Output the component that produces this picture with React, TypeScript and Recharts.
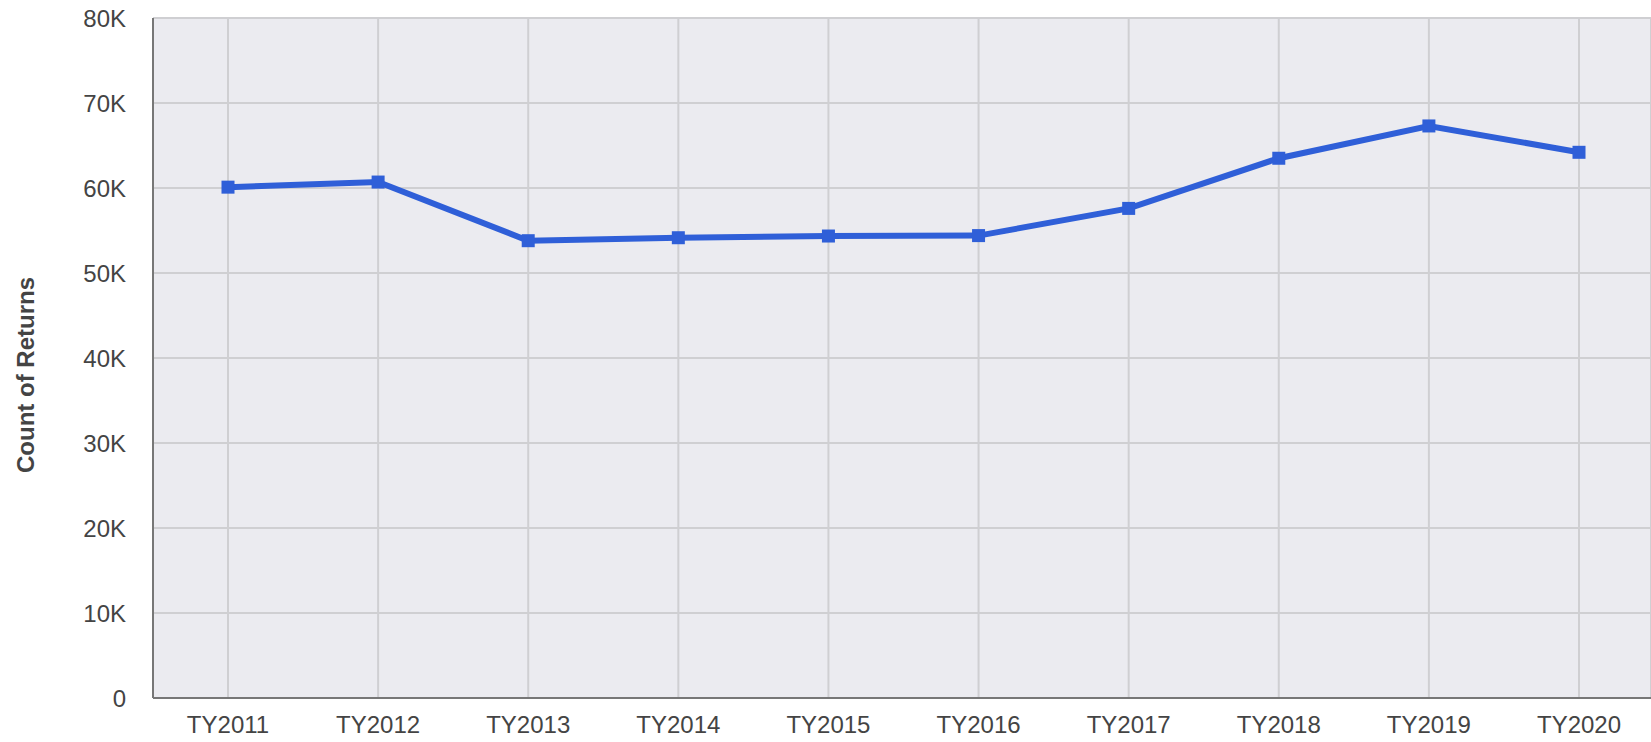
import React from "react";
import {
  LineChart,
  CartesianGrid,
  XAxis,
  YAxis,
  Line,
} from "recharts";

const taxYears = [
  "TY2011",
  "TY2012",
  "TY2013",
  "TY2014",
  "TY2015",
  "TY2016",
  "TY2017",
  "TY2018",
  "TY2019",
  "TY2020",
];
const returnCounts = [
  60100, 60700, 53800, 54150, 54350, 54400, 57600, 63500, 67300, 64200,
];
const yTicks = [0, 10000, 20000, 30000, 40000, 50000, 60000, 70000, 80000];

const data = taxYears.map((year, i) => ({ year, count: returnCounts[i] }));

const FONT = "'Liberation Sans', Arial, sans-serif";

function formatK(v: number): string {
  return v === 0 ? "0" : v / 1000 + "K";
}

function SquareDot(props: any) {
  const { cx, cy } = props;
  if (cx == null || cy == null) return null;
  return <rect x={cx - 6.5} y={cy - 6.5} width={13} height={13} fill="#2F5FD8" />;
}

function YLabel(props: any) {
  const vb = props.viewBox;
  const x = 25;
  const y = vb.y + vb.height / 2 + 17;
  return (
    <text
      x={x}
      y={y}
      transform={`rotate(-90 ${x} ${y})`}
      textAnchor="middle"
      dominantBaseline="central"
      fontFamily={FONT}
      fontWeight="bold"
      fontSize={24}
      fill="#444"
    >
      Count of Returns
    </text>
  );
}

export default function App() {
  return (
    <div style={{ position: "absolute", left: 0, top: 0 }}>
      <LineChart
        width={1651}
        height={742}
        data={data}
        margin={{ top: 18, right: 0, bottom: 0, left: 0 }}
      >
        <CartesianGrid stroke="#CFCFD2" strokeWidth={2} fill="#EBEBF0" />
        <XAxis
          dataKey="year"
          padding={{ left: 75, right: 72 }}
          height={44}
          tickLine={false}
          tickSize={0}
          tickMargin={18}
          axisLine={{ stroke: "#777", strokeWidth: 2 }}
          tick={{ fill: "#444", fontSize: 24, fontFamily: FONT }}
          interval={0}
        />
        <YAxis
          width={153}
          domain={[0, 80000]}
          ticks={yTicks}
          tickFormatter={formatK}
          tickLine={false}
          tickSize={0}
          tickMargin={27}
          axisLine={{ stroke: "#777", strokeWidth: 2 }}
          tick={{ fill: "#444", fontSize: 24, fontFamily: FONT }}
          interval={0}
          label={<YLabel />}
        />
        <Line
          type="linear"
          dataKey="count"
          stroke="#2F5FD8"
          strokeWidth={6}
          dot={<SquareDot />}
          activeDot={false}
          isAnimationActive={false}
        />
      </LineChart>
    </div>
  );
}
